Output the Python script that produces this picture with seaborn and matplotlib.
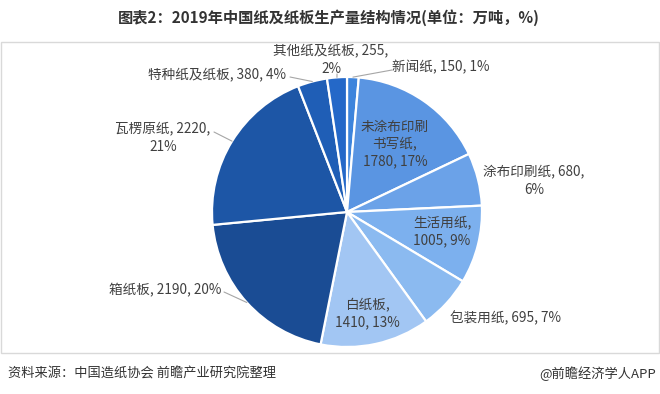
import matplotlib
matplotlib.use("Agg")
import matplotlib.pyplot as plt
import matplotlib.patches as mpatches
import seaborn as sns
import numpy as np

# data, clockwise from 12 o'clock
categories = ["新闻纸", "未涂布印刷书写纸", "涂布印刷纸", "生活用纸", "包装用纸",
              "白纸板", "箱纸板", "瓦楞原纸", "特种纸及纸板", "其他纸及纸板"]
values = [150, 1780, 680, 1005, 695, 1410, 2190, 2220, 380, 255]
pct_labels = ["1%", "17%", "6%", "9%", "7%", "13%", "20%", "21%", "4%", "2%"]

colors = ["#3d84dc", "#5a95e2", "#6ba2e8", "#7cb0ee", "#8bbaf0",
          "#a2c6f3", "#1a4c94", "#1d56a6", "#1f5eb6", "#2468c8"]

sns.set_theme(style="white")
plt.rcParams["font.family"] = ["Noto Sans CJK SC", "DejaVu Sans"]

W, H = 660, 394
fig = plt.figure(figsize=(W / 100, H / 100), dpi=100)
ax = fig.add_axes([0, 0, 1, 1])

cx, cy, r = 347, H - 212, 135
wedges, _ = ax.pie(values, colors=colors, startangle=90, counterclock=False,
                   center=(cx, cy), radius=r, frame=True,
                   wedgeprops=dict(edgecolor="white", linewidth=1.6))
ax.set_xlim(0, W)
ax.set_ylim(0, H)
ax.set_aspect("equal")
ax.axis("off")

# label text built from the data
label_text = [
    f"{categories[0]}, {values[0]}, {pct_labels[0]}",
    f"未涂布印刷\n书写纸,\n{values[1]}, {pct_labels[1]}",
    f"{categories[2]}, {values[2]},\n{pct_labels[2]}",
    f"{categories[3]},\n{values[3]}, {pct_labels[3]}",
    f"{categories[4]}, {values[4]}, {pct_labels[4]}",
    f"{categories[5]},\n{values[5]}, {pct_labels[5]}",
    f"{categories[6]}, {values[6]}, {pct_labels[6]}",
    f"{categories[7]}, {values[7]},\n{pct_labels[7]}",
    f"{categories[8]}, {values[8]}, {pct_labels[8]}",
    f"{categories[9]}, {values[9]},\n{pct_labels[9]}",
]
# label centres (px from top-left) and leader line ends
label_pos = [(441, 67), (395, 144), (534, 181), (442, 232), (505, 318),
             (367, 314), (165, 290), (163, 138), (217, 75), (331, 60)]
leader_end = [(392, 70), None, None, None, None, None, (224, 292), (214, 132), (290, 77), (337, 74)]

for w, txt, (lx, ly), le in zip(wedges, label_text, label_pos, leader_end):
    ax.text(lx, H - ly, txt, ha="center", va="center", fontsize=9.8,
            color="#404040", linespacing=1.3)
    if le is not None:
        mid = np.deg2rad((w.theta1 + w.theta2) / 2)
        ex, ey = cx + r * np.cos(mid), cy + r * np.sin(mid)
        ax.plot([le[0], ex], [H - le[1], ey], color="#a6a6a6", lw=0.8)

# chart frame
ax.add_patch(mpatches.Rectangle((1, H - 353), 658, 311, fill=False,
                                edgecolor="#d9d9d9", lw=1))

fig.text(329 / W, 1 - 18 / H, "图表2：2019年中国纸及纸板生产量结构情况(单位：万吨，%)",
         ha="center", va="center", fontsize=11, fontweight="bold", color="#333333")
fig.text(8 / W, 1 - 374 / H, "资料来源：中国造纸协会 前瞻产业研究院整理",
         ha="left", va="center", fontsize=9.5, color="#333333")
fig.text(656 / W, 1 - 374 / H, "@前瞻经济学人APP",
         ha="right", va="center", fontsize=9.5, color="#333333")

fig.savefig("out.png", dpi=100)
